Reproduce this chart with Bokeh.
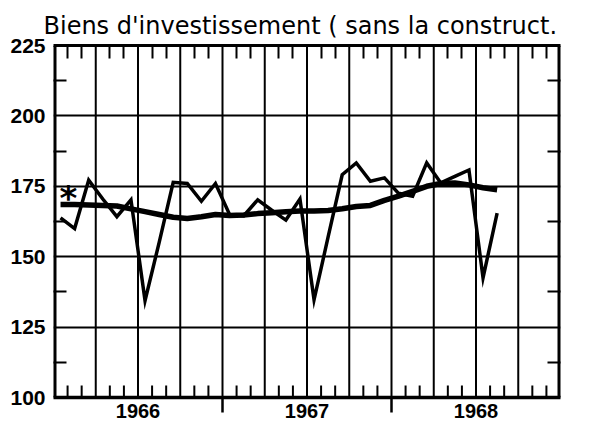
from bokeh.plotting import figure
from bokeh.models import FixedTicker, LinearAxis, Range1d, Grid, ColumnDataSource
from bokeh.core.properties import value
from bokeh.embed import file_html
from bokeh.resources import INLINE

title_text = "Biens d'investissement ( sans la construct."
years = ["1966", "1967", "1968"]
y_ticks = [100, 125, 150, 175, 200, 225]
# monthly index values, Jan 1966 .. Aug 1968
raw = [163.8, 160.0, 177.2, 170.5, 164.2, 170.2, 134.4, 155.0, 176.4, 176.0, 169.7, 176.0,
       165.0, 164.5, 170.2, 166.5, 163.0, 170.5, 134.7, 157.0, 179.1, 183.3, 176.8, 178.0,
       172.5, 171.5, 183.3, 176.2, 178.5, 180.8, 142.5, 165.5]
trend = [168.5, 168.5, 168.4, 168.2, 168.0, 167.0, 166.0, 165.0, 164.0, 163.6, 164.2, 165.0,
         164.6, 164.8, 165.3, 165.6, 166.0, 166.2, 166.2, 166.4, 167.0, 167.8, 168.2, 170.0,
         171.5, 173.2, 175.0, 176.0, 176.2, 175.5, 174.5, 173.8]
star_month = 1.06
star_value = 170.8

n_months = 12 * len(years)
months = [i + 0.5 for i in range(len(raw))]
quarter_lines = [m for m in range(3, n_months, 3)]
month_ticks = [m for m in range(1, n_months) if m % 3 != 0]
year_bounds = [12 * k for k in range(1, len(years))]
year_centers = [12 * k + 6 for k in range(len(years))]
y_minor = [(a + b) / 2 for a, b in zip(y_ticks[:-1], y_ticks[1:])]

# ---- geometry (pixels) ----
FONT = "Liberation Sans"
W, H = 600, 423
ML, MR, MT = 53, 40, 45
BOX_H = 352                      # pixel height of the 100..225 box
y_lo, y_hi = y_ticks[0], y_ticks[-1]
u = (y_hi - y_lo) / BOX_H        # data units per pixel (vertical)
frame_h = H - MT
y_bottom = y_hi - frame_h * u    # frame extends below the box for the year strip

p = figure(width=W, height=H,
           x_range=Range1d(0, n_months), y_range=Range1d(y_bottom, y_hi),
           x_axis_type=None, y_axis_type=None,
           output_backend="svg", toolbar_location=None,
           min_border_left=ML, min_border_right=MR, min_border_top=MT, min_border_bottom=0)
p.outline_line_color = None
p.title.text = title_text
p.title.text_font = "DejaVu Sans"
p.title.text_font_size = "24px"
p.title.text_font_style = "normal"
p.title.text_color = "black"
p.title.align = "left"
p.title.offset = -10
p.title.standoff = 12

p.add_layout(Grid(dimension=1, ticker=FixedTicker(ticks=y_ticks[1:-1]),
                  grid_line_color="black", grid_line_width=2))

tick_style = dict(major_tick_line_color="black", minor_tick_line_color="black",
                  major_tick_line_width=2, minor_tick_line_width=2,
                  major_tick_in=0, major_tick_out=0, minor_tick_in=13, minor_tick_out=0)

left = LinearAxis(ticker=FixedTicker(ticks=y_ticks, minor_ticks=y_minor),
                  axis_line_color=None,
                  major_label_standoff=8, major_label_text_font_size="21px",
                  major_label_text_font=FONT, major_label_text_font_style="bold",
                  major_label_text_color="black", **tick_style)
p.add_layout(left, "left")

right = LinearAxis(ticker=FixedTicker(ticks=[], minor_ticks=y_minor), axis_line_color=None,
                   major_label_text_font_size="0px", major_label_standoff=0, **tick_style)
p.add_layout(right, "right")

top = LinearAxis(ticker=FixedTicker(ticks=[], minor_ticks=month_ticks),
                 axis_line_color="black", axis_line_width=3,
                 major_label_text_font_size="0px", major_label_standoff=0, **tick_style)
p.add_layout(top, "above")

# vertical quarter grid lines inside the box
p.segment(x0=quarter_lines, y0=[y_lo] * len(quarter_lines), x1=quarter_lines,
          y1=[y_hi] * len(quarter_lines), line_color="black", line_width=2)
# month ticks on the bottom border
p.segment(x0=month_ticks, y0=[y_lo] * len(month_ticks), x1=month_ticks,
          y1=[y_lo + 12 * u] * len(month_ticks), line_color="black", line_width=2)
# year boundary ticks below the box
p.segment(x0=year_bounds, y0=[y_lo] * len(year_bounds), x1=year_bounds,
          y1=[y_lo - 15 * u] * len(year_bounds), line_color="black", line_width=2.5)
# box: left / right borders (half clipped by the frame) and bottom border
p.segment(x0=[0, n_months], y0=[y_lo, y_lo], x1=[0, n_months], y1=[y_hi, y_hi],
          line_color="black", line_width=6)
p.segment(x0=[0], y0=[y_lo], x1=[n_months], y1=[y_lo], line_color="black", line_width=3.5,
          line_cap="square")

src = ColumnDataSource(dict(x=months, raw=raw, trend=trend))
p.line("x", "trend", source=src, line_color="black", line_width=5.5, line_join="round")
p.line("x", "raw", source=src, line_color="black", line_width=3.5, line_join="miter")

p.text(x=[star_month], y=[star_value], text=["*"], text_font=value("DejaVu Sans"),
       text_font_size="34px", text_font_style="bold", text_align="center",
       text_baseline="middle", text_color="black")

p.text(x=year_centers, y=[y_lo - 13.5 * u] * len(years), text=years, text_font=value(FONT),
       text_font_size="20px", text_font_style="bold", text_align="center",
       text_baseline="middle", text_color="black")

open("out.html", "w").write(file_html(p, INLINE))
